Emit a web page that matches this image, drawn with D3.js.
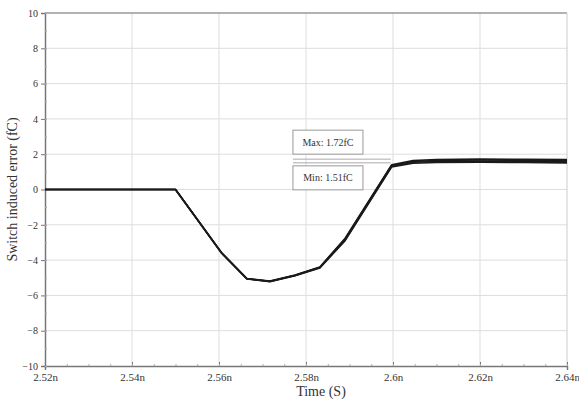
<!DOCTYPE html>
<html lang="en">
    <head>
        <meta charset="utf-8">
        <title>Switch induced error</title>
        <script src="https://cdn.jsdelivr.net/npm/d3@7/dist/d3.min.js" charset="utf-8"></script>
        <style type="text/css">
            body { margin: 0; background: #fff; }
            #chart { width: 579px; height: 402px; }
            text { font-family: "Liberation Serif", "DejaVu Serif", serif; fill: #333; }
        </style>
    </head>
    <body>
        <div id="chart"></div>
        <script>
            // time points (ns)
            var times = [2.52, 2.550, 2.5606, 2.5664, 2.5717, 2.5775, 2.5832, 2.589, 2.5997, 2.6046, 2.61, 2.62, 2.63, 2.64];

            // overlapping traces (fC)
            var trace1 = [0, 0, -3.58, -5.04, -5.19, -4.85, -4.39, -2.76, 1.40, 1.64, 1.69, 1.72, 1.71, 1.70];
            var trace2 = [0, 0, -3.59, -5.05, -5.20, -4.86, -4.40, -2.80, 1.36, 1.59, 1.64, 1.67, 1.66, 1.65];
            var trace3 = [0, 0, -3.60, -5.06, -5.21, -4.87, -4.42, -2.85, 1.32, 1.54, 1.59, 1.61, 1.60, 1.58];
            var trace4 = [0, 0, -3.61, -5.07, -5.22, -4.88, -4.44, -2.90, 1.28, 1.49, 1.53, 1.55, 1.53, 1.51];
            var traces = [trace1, trace2, trace3, trace4];

            var xTicks = [2.52, 2.54, 2.56, 2.58, 2.60, 2.62, 2.64];
            var xTickLabels = ["2.52n", "2.54n", "2.56n", "2.58n", "2.6n", "2.62n", "2.64n"];
            var yTicks = [-10, -8, -6, -4, -2, 0, 2, 4, 6, 8, 10];

            var maxVal = 1.72, minVal = 1.51;
            var maxLabel = "Max: 1.72fC", minLabel = "Min: 1.51fC";

            var margin = {top: 13, right: 12, bottom: 36, left: 45};
            var width = 579 - margin.left - margin.right,
                height = 402 - margin.top - margin.bottom;

            var svg = d3.select("#chart").append("svg")
                .attr("width", 579)
                .attr("height", 402)
                .append("g")
                .attr("transform", "translate(" + margin.left + "," + margin.top + ")");

            var x = d3.scaleLinear().domain([2.52, 2.64]).range([0, width]);
            var y = d3.scaleLinear().domain([-10, 10]).range([height, 0]);

            // grid
            svg.append("g").selectAll("line.gx")
                .data(xTicks.slice(1, -1)).enter().append("line")
                .attr("x1", function(d) { return x(d); })
                .attr("x2", function(d) { return x(d); })
                .attr("y1", 0).attr("y2", height)
                .attr("stroke", "#ddd").attr("stroke-width", 1);
            svg.append("g").selectAll("line.gy")
                .data(yTicks.slice(1, -1)).enter().append("line")
                .attr("x1", 0).attr("x2", width)
                .attr("y1", function(d) { return y(d); })
                .attr("y2", function(d) { return y(d); })
                .attr("stroke", "#ddd").attr("stroke-width", 1);

            // frame top / right
            svg.append("line").attr("x1", 0).attr("x2", width).attr("y1", 0).attr("y2", 0)
                .attr("stroke", "#999").attr("stroke-width", 1.5);
            svg.append("line").attr("x1", width).attr("x2", width).attr("y1", 0).attr("y2", height)
                .attr("stroke", "#ccc").attr("stroke-width", 1);

            // axes
            var xAxis = d3.axisBottom(x).tickValues(xTicks)
                .tickFormat(function(d, i) { return xTickLabels[i]; })
                .tickSize(4).tickPadding(3);
            var gx = svg.append("g")
                .attr("transform", "translate(0," + height + ")")
                .call(xAxis);
            gx.selectAll("text").attr("font-size", 11).style("font-family", "Liberation Serif");
            gx.select(".domain").attr("stroke", "#777").attr("stroke-width", 1.5);
            gx.selectAll(".tick line").attr("stroke", "#777").attr("y2", -4);

            var xMinor = d3.axisBottom(x).ticks(24).tickFormat("").tickSize(-2);
            svg.append("g").attr("transform", "translate(0," + height + ")").call(xMinor)
                .call(function(g) { g.select(".domain").remove(); })
                .selectAll("line").attr("stroke", "#aaa");

            var yAxis = d3.axisLeft(y).tickValues(yTicks).tickSize(4).tickPadding(3);
            var gy = svg.append("g").call(yAxis);
            gy.selectAll("text").attr("font-size", 10).style("font-family", "Liberation Serif");
            gy.select(".domain").attr("stroke", "#777").attr("stroke-width", 1.5);
            gy.selectAll(".tick line").attr("stroke", "#777");

            var yMinor = d3.axisLeft(y).ticks(20).tickFormat("").tickSize(-2);
            svg.append("g").call(yMinor)
                .call(function(g) { g.select(".domain").remove(); })
                .selectAll("line").attr("stroke", "#aaa");

            // max / min markers
            var markX0 = x(2.577), markX1 = x(2.5995);
            [maxVal, minVal].forEach(function(v) {
                svg.append("line")
                    .attr("x1", markX0).attr("x2", markX1)
                    .attr("y1", y(v)).attr("y2", y(v))
                    .attr("stroke", "#aaa").attr("stroke-width", 1);
            });
            var boxW = 70, boxH = 24;
            var boxes = [
                {label: maxLabel, top: y(maxVal) - 5 - boxH},
                {label: minLabel, top: y(minVal) + 3}
            ];
            boxes.forEach(function(b) {
                svg.append("rect")
                    .attr("x", markX0).attr("y", b.top)
                    .attr("width", boxW).attr("height", boxH)
                    .attr("fill", "#fff").attr("stroke", "#999").attr("stroke-width", 1);
                svg.append("text")
                    .attr("x", markX0 + boxW / 2).attr("y", b.top + boxH / 2 + 3.5)
                    .attr("text-anchor", "middle").attr("font-size", 10)
                    .text(b.label);
            });

            // traces
            var line = d3.line()
                .x(function(d, i) { return x(times[i]); })
                .y(function(d) { return y(d); });
            svg.append("g").selectAll("path")
                .data(traces).enter().append("path")
                .attr("d", line)
                .attr("fill", "none")
                .attr("stroke", "#1a1a1a")
                .attr("stroke-width", 1.6)
                .attr("stroke-linejoin", "round");

            // titles
            svg.append("text")
                .attr("x", width / 2 + 15).attr("y", height + 30)
                .attr("text-anchor", "middle").attr("font-size", 14)
                .text("Time (S)");
            svg.append("text")
                .attr("transform", "translate(-28," + (height / 2) + ") rotate(-90)")
                .attr("text-anchor", "middle").attr("font-size", 14)
                .text("Switch induced error (fC)");
        </script>
    </body>
</html>
